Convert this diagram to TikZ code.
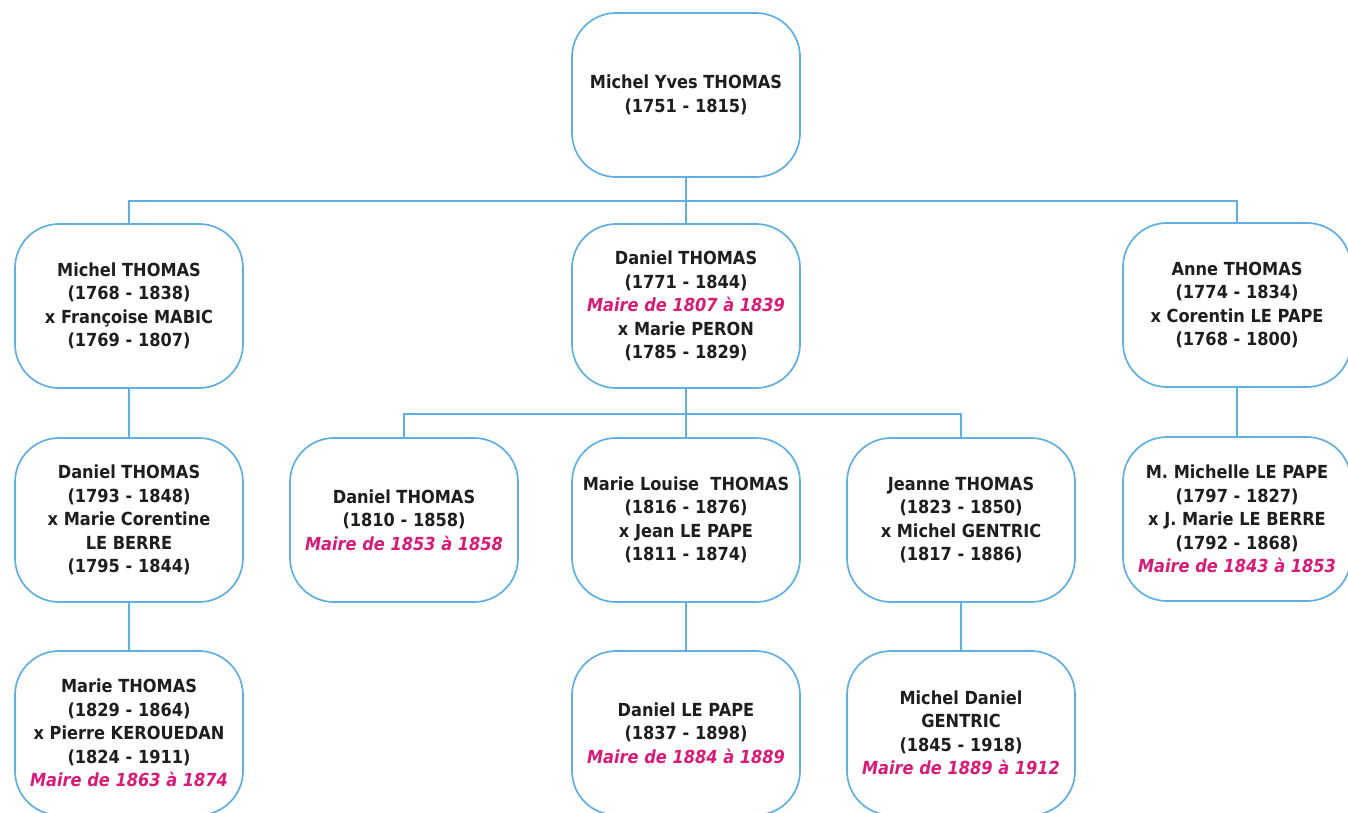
\documentclass[tikz,border=0pt]{standalone}
\usepackage{fontspec}
\setmainfont{DejaVu Sans}[FakeStretch=0.9]

\definecolor{bleulien}{RGB}{95,175,228}
\definecolor{rose}{RGB}{216,27,120}
\definecolor{encre}{RGB}{30,30,30}
\newcommand{\maire}[1]{\textcolor{rose}{\itshape #1}}

\begin{document}
\begin{tikzpicture}[x=0.5pt,y=-0.5pt,
    personne/.style={draw=bleulien,line width=0.85pt,rounded corners=22pt,
      minimum width=114pt,minimum height=82pt,inner sep=0pt,align=center,
      text=encre,font=\bfseries\fontsize{9}{11.75}\selectfont},
    trait/.style={draw=bleulien,line width=0.85pt}]
  \useasboundingbox (0,0) rectangle (1348,813);
  \node[personne] (T) at (686,95) {Michel Yves THOMAS\\(1751 - 1815)};
  % enfants
  \node[personne] (M) at (129,306) {Michel THOMAS\\(1768 - 1838)\\x Françoise MABIC\\(1769 - 1807)};
  \node[personne] (D) at (686,306) {Daniel THOMAS\\(1771 - 1844)\\\maire{Maire de 1807 à 1839}\\x Marie PERON\\(1785 - 1829)};
  \node[personne] (A) at (1237,305) {Anne THOMAS\\(1774 - 1834)\\x Corentin LE PAPE\\(1768 - 1800)};
  % petits-enfants
  \node[personne] (MD) at (129,520) {Daniel THOMAS\\(1793 - 1848)\\x Marie Corentine\\LE BERRE\\(1795 - 1844)};
  \node[personne] (DD) at (404,520) {Daniel THOMAS\\(1810 - 1858)\\\maire{Maire de 1853 à 1858}};
  \node[personne] (DM) at (686,520) {Marie Louise\ \ THOMAS\\(1816 - 1876)\\x Jean LE PAPE\\(1811 - 1874)};
  \node[personne] (DJ) at (961,520) {Jeanne THOMAS\\(1823 - 1850)\\x Michel GENTRIC\\(1817 - 1886)};
  \node[personne] (AM) at (1237,519) {M. Michelle LE PAPE\\(1797 - 1827)\\x J. Marie LE BERRE\\(1792 - 1868)\\\maire{Maire de 1843 à 1853}};
  % arriere-petits-enfants
  \node[personne] (MDM) at (129,733) {Marie THOMAS\\(1829 - 1864)\\x Pierre KEROUEDAN\\(1824 - 1911)\\\maire{Maire de 1863 à 1874}};
  \node[personne] (DML) at (686,733) {Daniel LE PAPE\\(1837 - 1898)\\\maire{Maire de 1884 à 1889}};
  \node[personne] (DJM) at (961,733) {Michel Daniel\\GENTRIC\\(1845 - 1918)\\\maire{Maire de 1889 à 1912}};
  \coordinate (T1) at (686,201);
  \coordinate (D1) at (686,414);
  \draw[trait] (T.south) -- (D.north);
  \draw[trait] (M.north) -- (M.north |- T1) -- (A.north |- T1) -- (A.north);
  \draw[trait] (D.south) -- (DM.north);
  \draw[trait] (DD.north) -- (DD.north |- D1) -- (DJ.north |- D1) -- (DJ.north);
  \draw[trait] (M.south) -- (MD.north);
  \draw[trait] (MD.south) -- (MDM.north);
  \draw[trait] (A.south) -- (AM.north);
  \draw[trait] (DM.south) -- (DML.north);
  \draw[trait] (DJ.south) -- (DJM.north);
\end{tikzpicture}
\end{document}
